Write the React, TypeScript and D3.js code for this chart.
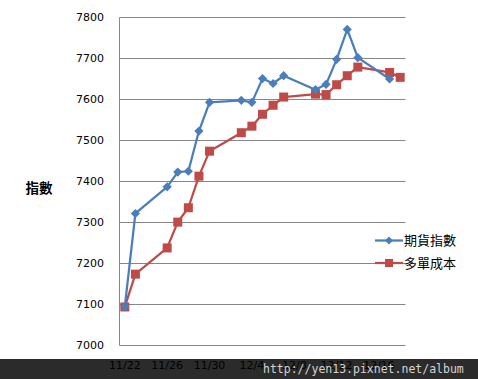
import React from "react";
import * as d3 from "d3";

const dates = ["11/22","11/23","11/26","11/27","11/28","11/29","11/30","12/3","12/4","12/5","12/6","12/7","12/10","12/11","12/12","12/13","12/14","12/17","12/18"];
const futures: (number | null)[] = [7094, 7322, 7387, 7423, 7425, 7523, 7593, 7598, 7593, 7651, 7639, 7658, 7624, 7637, 7698, 7771, 7702, 7650, null];
const cost: (number | null)[] = [7094, 7174, 7238, 7301, 7336, 7413, 7474, 7519, 7535, 7564, 7586, 7606, 7613, 7612, 7636, 7658, 7679, 7666, 7654];
const xTickLabels = ["11/22","11/26","11/30","12/4","12/8","12/12","12/16"];
const yTicks = [7000, 7100, 7200, 7300, 7400, 7500, 7600, 7700, 7800];
const seriesNames = ["期貨指數", "多單成本"];
const yTitle = "指數";
const watermark = "http://yen13.pixnet.net/album";

const BLUE = "#4A7EBB";
const RED = "#BE4B48";

function toDate(s: string) {
  const [m, d] = s.split("/").map(Number);
  return new Date(Date.UTC(2012, m - 1, d));
}

export default function App() {
  const W = 478, H = 379;
  const left = 119.5, right = 405.5, top = 17.5, bottom = 345.5;
  const x = d3.scaleUtc()
    .domain([new Date(Date.UTC(2012, 10, 21, 12)), new Date(Date.UTC(2012, 11, 18, 12))])
    .range([left, right]);
  const y = d3.scaleLinear().domain([7000, 7800]).range([bottom, top]);

  const mk = (vals: (number | null)[]) =>
    dates.map((d, i) => ({ x: x(toDate(d)), y: vals[i] == null ? null : y(vals[i] as number) }))
      .filter((p) => p.y != null) as { x: number; y: number }[];
  const pf = mk(futures);
  const pc = mk(cost);
  const line = d3.line<{ x: number; y: number }>().x((p) => p.x).y((p) => p.y);

  const diamond = (cx: number, cy: number, r: number) =>
    `M${cx},${cy - r}L${cx + r},${cy}L${cx},${cy + r}L${cx - r},${cy}Z`;

  const font = "'DejaVu Sans', Verdana, sans-serif";
  const cjk = "'Noto Sans CJK TC', 'Noto Sans CJK SC', sans-serif";

  return (
    <svg width={W} height={H} style={{ position: "absolute", left: 0, top: 0, background: "#fff" }}>
      <rect x={0} y={0} width={W} height={H} fill="#fff" />
      {yTicks.map((t) => (
        <g key={t}>
          <line x1={left} x2={right} y1={y(t)} y2={y(t)} stroke="#868686" strokeWidth={1} />
          <text x={104} y={y(t)} dy="0.35em" textAnchor="end" fontFamily={font} fontSize={11} fill="#000">{t}</text>
        </g>
      ))}
      <line x1={left} x2={left} y1={top} y2={bottom} stroke="#868686" strokeWidth={1} />
      {xTickLabels.map((t) => (
        <text key={t} x={x(toDate(t))} y={369} textAnchor="middle" fontFamily={font} fontSize={11} fill="#000">{t}</text>
      ))}
      <text x={39} y={188} dy="0.35em" textAnchor="middle" fontFamily={cjk} fontSize={13.5} fontWeight="bold" fill="#000">{yTitle}</text>

      <path d={line(pc) || ""} fill="none" stroke={RED} strokeWidth={2.25} strokeLinejoin="round" />
      {pc.map((p, i) => (
        <rect key={i} x={p.x - 4.5} y={p.y - 4.5} width={9} height={9} fill={RED} />
      ))}
      <path d={line(pf) || ""} fill="none" stroke={BLUE} strokeWidth={2.25} strokeLinejoin="round" />
      {pf.map((p, i) => (
        <path key={i} d={diamond(p.x, p.y, 4.6)} fill={BLUE} />
      ))}

      <g>
        <line x1={375} x2={403} y1={240.5} y2={240.5} stroke={BLUE} strokeWidth={2.25} />
        <path d={diamond(389, 240.5, 4)} fill={BLUE} />
        <text x={404} y={240.5} dy="0.36em" fontFamily={cjk} fontSize={13} fill="#000">{seriesNames[0]}</text>
        <line x1={375} x2={403} y1={263} y2={263} stroke={RED} strokeWidth={2.25} />
        <rect x={385} y={259} width={8} height={8} fill={RED} />
        <text x={404} y={263} dy="0.36em" fontFamily={cjk} fontSize={13} fill="#000">{seriesNames[1]}</text>
      </g>

      <rect x={0} y={359} width={W} height={H - 359} fill="#000" opacity={0.83} />
      <text x={263} y={369} dy="0.32em" fontFamily="'DejaVu Sans Mono', 'Liberation Mono', monospace" fontSize={11.5} fill="#d4d4d4">{watermark}</text>
    </svg>
  );
}
